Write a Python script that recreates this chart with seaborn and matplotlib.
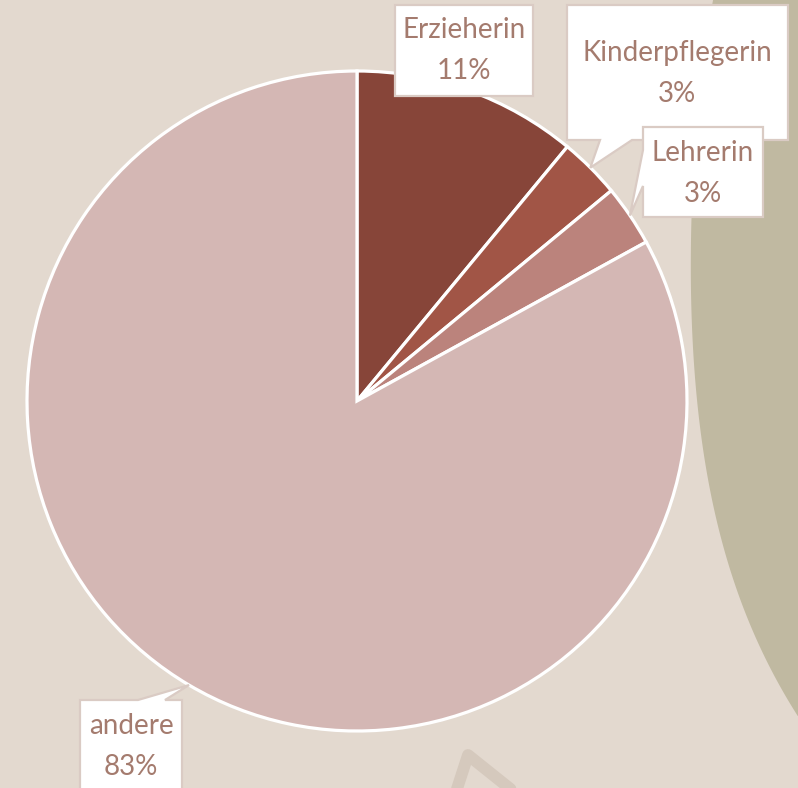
import numpy as np
import seaborn as sns
import matplotlib.pyplot as plt
from matplotlib.patches import Polygon

# data
labels = ["Erzieherin", "Kinderpflegerin", "Lehrerin", "andere"]
values = [11, 3, 3, 83]
colors = ["#874539", "#a15546", "#bb837c", "#d4b7b4"]

bg = "#e3d9cf"
khaki = "#c0b9a1"
text_col = "#a47b6e"
box_edge = "#dacbc4"

W, H = 798, 788

sns.set_theme(style="white")
plt.rcParams["font.family"] = ["Lato", "DejaVu Sans"]

fig = plt.figure(figsize=(W / 100, H / 100), dpi=100)
fig.patch.set_facecolor(bg)
ax = fig.add_axes([0, 0, 1, 1])
ax.set_facecolor(bg)


def py(y):
    # pixel row -> data y
    return H - y


# background shape on the right
ys = np.array([0, 230, 300, 400, 500, 600, 700, 715])
xs = np.array([713, 692, 690, 697, 713, 740, 787, 798])
coef = np.polyfit(ys, xs, 4)
yy = np.linspace(-5, 716, 200)
xx = np.polyval(coef, yy)
pts = list(zip(xx, py(yy))) + [(W + 50, py(716)), (W + 50, py(-5))]
ax.add_patch(Polygon(pts, closed=True, facecolor=khaki, edgecolor="none", zorder=1))

# leaf outline at the bottom
ax.plot([455, 468, 518], [py(795), py(755), py(795)], color="#d5c9bd", lw=8.5,
        solid_capstyle="round", solid_joinstyle="round", zorder=1)

# pie
cx, cy, r = 357, 401, 330
wedges, _ = ax.pie(values, colors=colors, startangle=90, counterclock=False,
                   center=(cx, py(cy)), radius=r,
                   wedgeprops=dict(edgecolor="white", linewidth=2.3))
for w in wedges:
    w.set_zorder(2)

ax.set_xlim(0, W)
ax.set_ylim(0, H)
ax.set_aspect("equal")
ax.axis("off")


def tip_of(w):
    a = np.deg2rad((w.theta1 + w.theta2) / 2)
    return (cx + r * np.cos(a), py(cy) + r * np.sin(a))


def callout(box, edge=None, base=None, tip=None):
    x0, y0, x1, y1 = box
    tl, tr, br, bl = (x0, py(y0)), (x1, py(y0)), (x1, py(y1)), (x0, py(y1))
    if edge == "top":
        v = [tl, (base[0], py(y0)), tip, (base[1], py(y0)), tr, br, bl]
    elif edge == "bottom":
        v = [tl, tr, br, (base[1], py(y1)), tip, (base[0], py(y1)), bl]
    elif edge == "left":
        v = [tl, tr, br, bl, (x0, py(base[1])), tip, (x0, py(base[0]))]
    else:
        v = [tl, tr, br, bl]
    ax.add_patch(Polygon(v, closed=True, facecolor="white", edgecolor=box_edge,
                         lw=1.6, joinstyle="miter", zorder=5))


def label_text(x, y, name, val):
    ax.text(x, py(y), name, ha="center", va="center", fontsize=20,
            color=text_col, fontweight="normal", zorder=6)
    ax.text(x, py(y + 41), f"{val}%", ha="center", va="center", fontsize=20,
            color=text_col, fontweight="normal", zorder=6)


# Erzieherin
callout((395, 5, 533, 96))
label_text(464, 30, labels[0], values[0])

# Kinderpflegerin
callout((567, 5, 788, 140), "bottom", (600, 632), tip_of(wedges[1]))
label_text(677, 53, labels[1], values[1])

# Lehrerin
callout((643, 127, 763, 217), "left", (150, 186), tip_of(wedges[2]))
label_text(703, 153, labels[2], values[2])

# andere
callout((80, 700, 182, 810), "top", (138, 165), tip_of(wedges[3]))
label_text(131, 726, labels[3], values[3])

fig.savefig("out.png", dpi=100, facecolor=bg)
